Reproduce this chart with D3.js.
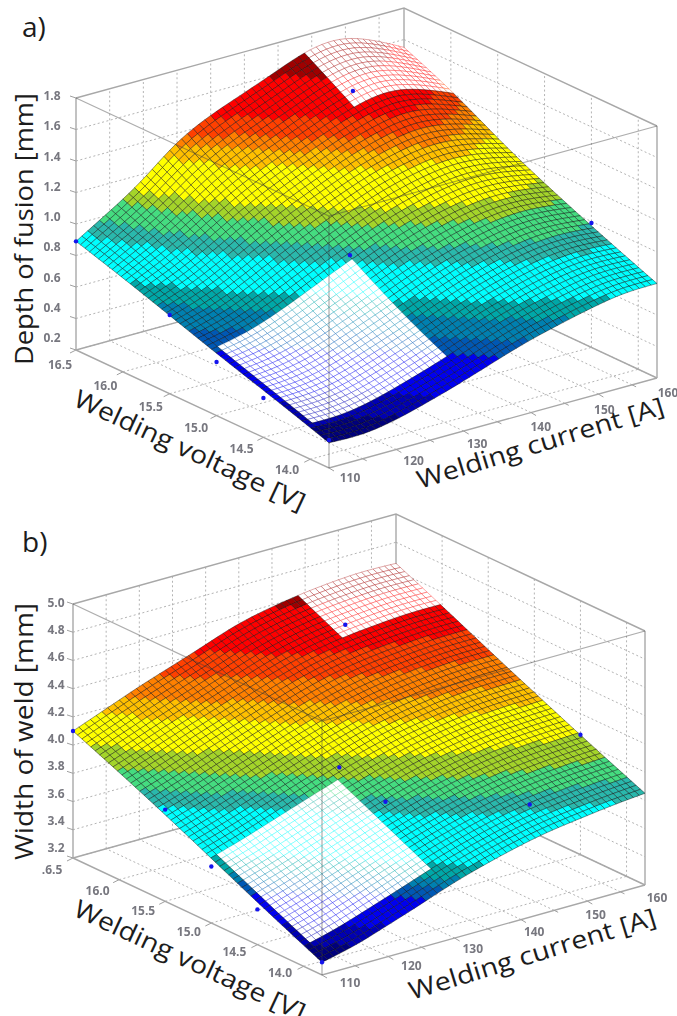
<!DOCTYPE html>
<html>
<head>
<meta charset="utf-8">
<script src="https://cdn.jsdelivr.net/npm/d3@7"></script>
<style>
  html, body { margin: 0; padding: 0; background: #fff; }
  svg { display: block; }
  text { font-family: "Open Sans", sans-serif; }
</style>
</head>
<body>
<div id="chart"></div>
<script>
// the box runs a little past the printed range on one end of each axis
const currentStart = 110, currentEnd = 158.7;
const voltageStart = 13.8, voltageEnd = 16.5;

const currents = [110, 114.9, 119.7, 124.6, 129.5, 134.4, 139.2, 144.1, 149, 153.8, 158.7];
const voltages = [13.8, 14.34, 14.88, 15.42, 15.96, 16.5];

const currentTicks = [110, 120, 130, 140, 150];
const currentMinorTicks = [115, 125, 135, 145, 155];
const currentLabels = [110, 120, 130, 140, 150, 160];
const voltageTicks = [14.0, 14.5, 15.0, 15.5, 16.0, 16.5];
const depthTicks = [0.2, 0.4, 0.6, 0.8, 1.0, 1.2, 1.4, 1.6, 1.8];
const widthTicks = [3.2, 3.4, 3.6, 3.8, 4.0, 4.2, 4.4, 4.6, 4.8, 5.0];

const depthRows = [
  [0.36, 0.35, 0.385, 0.445, 0.51, 0.585, 0.655, 0.71, 0.76, 0.80, 0.80],
  [0.47, 0.47, 0.51, 0.58, 0.65, 0.74, 0.82, 0.88, 0.93, 0.95, 0.93],
  [0.57, 0.60, 0.66, 0.75, 0.84, 0.93, 1.00, 1.06, 1.10, 1.10, 1.07],
  [0.68, 0.74, 0.84, 0.95, 1.05, 1.14, 1.22, 1.27, 1.30, 1.28, 1.22],
  [0.79, 0.89, 1.00, 1.13, 1.24, 1.33, 1.42, 1.50, 1.55, 1.50, 1.41],
  [0.89, 1.02, 1.15, 1.34, 1.45, 1.53, 1.61, 1.70, 1.73, 1.66, 1.55]
];
const widthRows = [
  [3.29, 3.34, 3.42, 3.50, 3.59, 3.66, 3.72, 3.77, 3.80, 3.83, 3.85],
  [3.45, 3.52, 3.60, 3.68, 3.76, 3.83, 3.89, 3.94, 3.97, 3.99, 4.00],
  [3.62, 3.69, 3.77, 3.85, 3.93, 4.00, 4.06, 4.10, 4.14, 4.15, 4.16],
  [3.79, 3.86, 3.94, 4.02, 4.10, 4.17, 4.23, 4.27, 4.30, 4.32, 4.32],
  [3.95, 4.03, 4.11, 4.19, 4.27, 4.35, 4.41, 4.45, 4.47, 4.49, 4.49],
  [4.10, 4.19, 4.28, 4.36, 4.44, 4.53, 4.58, 4.62, 4.645, 4.66, 4.65]
];

// colour bands
const bandColors = ['#00007c', '#0000b4', '#0000f0', '#0058b4', '#0080b0', '#00a8a8', '#00ffff', '#2cb8ac',
  '#44dc80', '#a4d42c', '#ffff00', '#ffc000', '#ff8000', '#ff4000', '#ff0000', '#a00000'];
const depthBands = [0.40, 0.47, 0.60, 0.66, 0.73, 0.79, 0.92, 0.98, 1.06, 1.12, 1.27, 1.33, 1.38, 1.45, 1.60];
const widthBands = [3.35, 3.42, 3.53, 3.57, 3.61, 3.66, 3.84, 3.90, 3.97, 4.05, 4.17, 4.24, 4.33, 4.42, 4.58];

// measured points: current, voltage, height
const depthPointCurrent = [110, 110, 110, 110, 110, 130.5, 143.6, 158.7];
const depthPointVoltage = [16.5, 15.5, 15.0, 14.5, 13.8, 15.05, 15.96, 14.5];
const depthPointValue = [0.89, 0.70, 0.54, 0.45, 0.378, 0.964, 1.60, 0.99];
const widthPointCurrent = [110, 110, 110, 110, 110, 129.3, 129.3, 144.1, 158.7, 144.1];
const widthPointVoltage = [16.5, 15.5, 15.0, 14.5, 13.8, 15.0, 14.5, 14.0, 14.5, 16.0];
const widthPointValue = [4.10, 3.85, 3.60, 3.45, 3.29, 4.05, 3.96, 3.90, 4.05, 4.56];

const MESH = 56;
const svg = d3.select('#chart').append('svg').attr('width', 677).attr('height', 1016);

const defs = svg.append('defs');
defs.append('filter').attr('id', 'soft').attr('x', '-5%').attr('y', '-5%').attr('width', '110%').attr('height', '110%')
  .append('feGaussianBlur').attr('stdDeviation', 0.6);
defs.append('filter').attr('id', 'softText')
  .append('feGaussianBlur').attr('stdDeviation', 0.35);

function drawPanel(cfg) {
  const iDom = [currentStart, currentEnd], vDom = [voltageStart, voltageEnd];
  const iX = d3.scaleLinear().domain(iDom).range([0, cfg.iVec[0]]);
  const iY = d3.scaleLinear().domain(iDom).range([0, cfg.iVec[1]]);
  const vX = d3.scaleLinear().domain(vDom).range([0, cfg.vVec[0]]);
  const vY = d3.scaleLinear().domain(vDom).range([0, cfg.vVec[1]]);
  const zY = d3.scaleLinear().domain(d3.extent(cfg.zTicks)).range([0, -cfg.zPx]);
  const project = (I, V, z) => [cfg.ox + iX(I) + vX(V), cfg.oy + iY(I) + vY(V) + zY(z)];

  const zMin = d3.min(cfg.zTicks), zMax = d3.max(cfg.zTicks);
  const line = d3.line();
  const g = svg.append('g');

  // walls and floor
  const grid = g.append('g').attr('fill', 'none').attr('stroke', '#b4b4b4').attr('stroke-width', 1)
    .attr('stroke-dasharray', '2,2.5');
  const gridLine = pts => grid.append('path').attr('d', line(pts));
  cfg.zTicks.slice(0, -1).forEach(z => {
    gridLine([project(currentStart, voltageEnd, z), project(currentEnd, voltageEnd, z)]);
    gridLine([project(currentEnd, voltageEnd, z), project(currentEnd, voltageStart, z)]);
  });
  d3.merge([currentTicks.slice(1), currentMinorTicks]).forEach(I => {
    gridLine([project(I, voltageEnd, zMin), project(I, voltageEnd, zMax)]);
    gridLine([project(I, voltageStart, zMin), project(I, voltageEnd, zMin)]);
  });
  voltageTicks.slice(0, -1).forEach(V => {
    gridLine([project(currentEnd, V, zMin), project(currentEnd, V, zMax)]);
    gridLine([project(currentStart, V, zMin), project(currentEnd, V, zMin)]);
  });

  const box = g.append('g').attr('fill', 'none').attr('stroke', '#a8a8a8').attr('stroke-width', 1.4);
  const boxLine = pts => box.append('path').attr('d', line(pts));
  boxLine([project(currentStart, voltageEnd, zMax), project(currentEnd, voltageEnd, zMax), project(currentEnd, voltageStart, zMax)]);
  boxLine([project(currentStart, voltageEnd, zMin), project(currentEnd, voltageEnd, zMin), project(currentEnd, voltageStart, zMin)]);
  boxLine([project(currentStart, voltageEnd, zMin), project(currentStart, voltageStart, zMin), project(currentEnd, voltageStart, zMin)]);
  boxLine([project(currentStart, voltageEnd, zMin), project(currentStart, voltageEnd, zMax)]);
  boxLine([project(currentEnd, voltageEnd, zMin), project(currentEnd, voltageEnd, zMax)]);
  boxLine([project(currentEnd, voltageStart, zMin), project(currentEnd, voltageStart, zMax)]);

  // ticks
  const ticks = g.append('g').attr('fill', 'none').attr('stroke', '#a0a0a0').attr('stroke-width', 1);
  const tickAt = (p, dx, dy) => ticks.append('path').attr('d', line([p, [p[0] + dx, p[1] + dy]]));
  cfg.zTicks.forEach(z => tickAt(project(currentStart, voltageEnd, z), -6, -2));
  voltageTicks.forEach(V => tickAt(project(currentStart, V, zMin), -6, 3));
  currentTicks.forEach(I => tickAt(project(I, voltageStart, zMin), 5, 3));
  currentMinorTicks.forEach(I => tickAt(project(I, voltageStart, zMin), 4, 2));

  // surface: the read rows and columns, smoothed only to lay the wire mesh over them
  const colPos = d3.scaleLinear().domain(currents).range(d3.range(currents.length).map(i => i / (currents.length - 1)));
  const rowPos = d3.scaleLinear().domain(voltages).range(d3.range(voltages.length).map(i => i / (voltages.length - 1)));
  const rowCurves = cfg.rows.map(r => d3.interpolateBasis(r));
  const height = (I, V) => d3.interpolateBasis(rowCurves.map(f => f(colPos(I))))(rowPos(V));
  const meshI = d3.scaleLinear().domain([0, MESH]).range(iDom);
  const meshV = d3.scaleLinear().domain([0, MESH]).range(vDom);
  const color = d3.scaleThreshold().domain(cfg.bands).range(bandColors);
  const inside = (I, V, p) => I >= p[0] && I <= p[1] && V >= p[2] && V <= p[3];

  const cells = [];
  for (let b = MESH - 1; b >= 0; b--) {
    for (let a = MESH - 1; a >= 0; a--) {
      const I = (meshI(a) + meshI(a + 1)) / 2, V = (meshV(b) + meshV(b + 1)) / 2;
      const corners = [[a, b], [a + 1, b], [a + 1, b + 1], [a, b + 1]].map(c => {
        const ci = meshI(c[0]), cv = meshV(c[1]);
        const z = height(ci, cv);
        return { p: project(ci, cv, z), z: z };
      });
      cells.push({
        path: line(corners.map(c => c.p)) + 'Z',
        z: d3.mean(corners, c => c.z),
        open: cfg.openAreas.some(p => inside(I, V, p))
      });
    }
  }
  g.append('g').attr('filter', 'url(#soft)').selectAll('path').data(cells).join('path')
    .attr('d', d => d.path)
    .attr('fill', d => d.open ? '#fff' : color(d.z))
    .attr('stroke', d => d.open ? color(d.z) : '#000')
    .attr('stroke-opacity', d => d.open ? 0.4 : 0.46)
    .attr('stroke-width', 0.85);

  // front edges of the box stay visible through the surface
  const front = g.append('g').attr('fill', 'none').attr('stroke', '#3c3c3c').attr('stroke-opacity', 0.42)
    .attr('stroke-width', 1.2);
  front.append('path').attr('d', line([project(currentStart, voltageEnd, zMax), project(currentStart, voltageStart, zMax), project(currentEnd, voltageStart, zMax)]));
  front.append('path').attr('d', line([project(currentStart, voltageStart, zMax), project(currentStart, voltageStart, zMin)]));

  // measured points
  g.append('g').selectAll('circle').data(cfg.pointValue).join('circle')
    .attr('cx', (d, i) => project(cfg.pointCurrent[i], cfg.pointVoltage[i], d)[0])
    .attr('cy', (d, i) => project(cfg.pointCurrent[i], cfg.pointVoltage[i], d)[1])
    .attr('r', 2.2).attr('fill', '#1414ee');

  // tick labels
  const labels = g.append('g').attr('filter', 'url(#softText)').attr('font-size', 12).attr('font-weight', 700)
    .attr('fill', '#77777f').attr('text-anchor', 'middle')
    .style('font-family', '"Liberation Sans", sans-serif');
  const zLabY = d3.scaleLinear().domain(d3.extent(cfg.zTicks)).range(cfg.zLabelY);
  labels.selectAll('.z').data(cfg.zTicks).join('text').attr('class', 'z')
    .attr('x', cfg.zLabelX).attr('y', d => zLabY(d) + 4).text(d => d.toFixed(1));
  const vLabX = d3.scaleLinear().domain([16.5, 14]).range(cfg.vLabelX);
  const vLabY = d3.scaleLinear().domain([16.5, 14]).range(cfg.vLabelY);
  labels.selectAll('.v').data(voltageTicks).join('text').attr('class', 'v')
    .attr('x', d => vLabX(d)).attr('y', d => vLabY(d) + 4)
    .text(d => d === 16.5 ? cfg.firstVoltageLabel : d.toFixed(1));
  const iLabX = d3.scaleLinear().domain([110, 160]).range(cfg.iLabelX);
  const iLabY = d3.scaleLinear().domain([110, 160]).range(cfg.iLabelY);
  labels.selectAll('.i').data(currentLabels).join('text').attr('class', 'i')
    .attr('x', d => iLabX(d)).attr('y', d => iLabY(d) + 4).text(d => d);

  // titles
  const title = (txt, x, y, angle, len) => svg.append('text')
    .attr('transform', `translate(${x},${y}) rotate(${angle})`)
    .attr('font-size', 25).attr('fill', '#1c1c1c')
    .attr('textLength', len).attr('lengthAdjust', 'spacingAndGlyphs').text(txt);
  title(cfg.zTitle, cfg.zTitlePos[0], cfg.zTitlePos[1], -90, cfg.zTitlePos[2]);
  title('Welding voltage [V]', cfg.vTitlePos[0], cfg.vTitlePos[1], 25, 252);
  title('Welding current [A]', cfg.iTitlePos[0], cfg.iTitlePos[1], -17, 257);
  svg.append('text').attr('x', cfg.tagPos[0]).attr('y', cfg.tagPos[1])
    .attr('font-size', 28).attr('fill', '#1c1c1c').text(cfg.tag);
}

drawPanel({
  tag: 'a)', tagPos: [22, 37],
  ox: 329, oy: 468, iVec: [328, -90], vVec: [-253, -118], zPx: 252,
  zTicks: depthTicks, rows: depthRows, bands: depthBands,
  openAreas: [[111, 130.5, 14.05, 15.05], [144.1, 158.7, 15.96, 16.5]],
  pointCurrent: depthPointCurrent, pointVoltage: depthPointVoltage, pointValue: depthPointValue,
  zLabelX: 52, zLabelY: [338, 96],
  vLabelX: [60, 287], vLabelY: [365, 470], firstVoltageLabel: '16.5',
  iLabelX: [350, 668], iLabelY: [478, 393],
  zTitle: 'Depth of fusion [mm]', zTitlePos: [33, 365, 272],
  vTitlePos: [72, 405], iTitlePos: [420, 489]
});

drawPanel({
  tag: 'b)', tagPos: [22, 552],
  ox: 322, oy: 975, iVec: [323, -90], vVec: [-249, -117], zPx: 254,
  zTicks: widthTicks, rows: widthRows, bands: widthBands,
  openAreas: [[111, 129.3, 14.0, 14.99], [144.1, 158.7, 16.0, 16.5]],
  pointCurrent: widthPointCurrent, pointVoltage: widthPointVoltage, pointValue: widthPointValue,
  zLabelX: 56, zLabelY: [848, 603],
  vLabelX: [52, 280], vLabelY: [870, 973], firstVoltageLabel: '.6.5',
  iLabelX: [350, 657], iLabelY: [983, 898],
  zTitle: 'Width of weld [mm]', zTitlePos: [33, 860, 257],
  vTitlePos: [72, 915], iTitlePos: [412, 1000]
});
</script>
</body>
</html>
